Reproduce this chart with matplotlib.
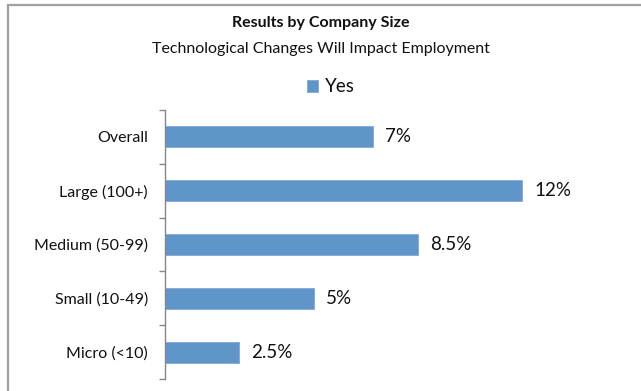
import matplotlib
matplotlib.use("Agg")
import matplotlib.pyplot as plt
from matplotlib.patches import Rectangle

categories = ["Overall", "Large (100+)", "Medium (50-99)", "Small (10-49)", "Micro (<10)"]
yes_values = [7, 12, 8.5, 5, 2.5]
value_labels = ["7%", "12%", "8.5%", "5%", "2.5%"]

W, H = 641, 391
DPI = 100
plt.rcParams["font.family"] = ["Lato", "DejaVu Sans"]

fig = plt.figure(figsize=(W / DPI, H / DPI), dpi=DPI)
fig.patch.set_facecolor("white")

# outer chart frame (left and top edges visible, the rest runs off the canvas)
fig.patches.append(Rectangle((8 / W, -0.05), 1.2, (H - 5) / H + 0.05,
                             transform=fig.transFigure, fill=False,
                             edgecolor="#a0a0a0", linewidth=1.6))

# plot area in pixel terms
left_px, right_px = 164.5, 630
top_px, bottom_px = 110, 379
px_per_unit = 29.8
ax = fig.add_axes([left_px / W, 1 - bottom_px / H,
                   (right_px - left_px) / W, (bottom_px - top_px) / H])
ax.set_xlim(0, (right_px - left_px) / px_per_unit)
ax.set_ylim(len(categories) - 0.5, -0.5)

pos = list(range(len(categories)))
ax.barh(pos, yes_values, height=0.39, color="#5f95c8", edgecolor="#7eaad6",
        linewidth=0.6, label="Yes")

for p, v, lab in zip(pos, yes_values, value_labels):
    ax.text(v + 12 / px_per_unit, p, lab, va="center", ha="left",
            fontsize=13.5, color="#111111")

for s in ["top", "right", "bottom"]:
    ax.spines[s].set_visible(False)
ax.spines["left"].set_color("#868686")
ax.spines["left"].set_linewidth(1.0)
ax.set_xticks([])

ax.set_yticks([i - 0.5 for i in range(len(categories) + 1)])
ax.set_yticklabels([])
ax.tick_params(axis="y", which="major", length=4, color="#868686", width=1.0)
ax.set_yticks(pos, minor=True)
ax.set_yticklabels(categories, minor=True)
ax.tick_params(axis="y", which="minor", length=0, pad=12, labelsize=11.5,
               labelcolor="#111111")

fig.text(0.5, 1 - 23 / H, "Results by Company Size", ha="center", va="center",
         fontsize=11.5, fontweight="bold", color="#111111")
fig.text(0.5, 1 - 49 / H, "Technological Changes Will Impact Employment",
         ha="center", va="center", fontsize=11.5, color="#111111")

fig.legend(loc="center", bbox_to_anchor=(331 / W, 1 - 87 / H), frameon=False,
           fontsize=13.5, handlelength=0.6, handleheight=0.6, handletextpad=0.35,
           labelcolor="#111111")

fig.savefig("out.png", dpi=DPI)
